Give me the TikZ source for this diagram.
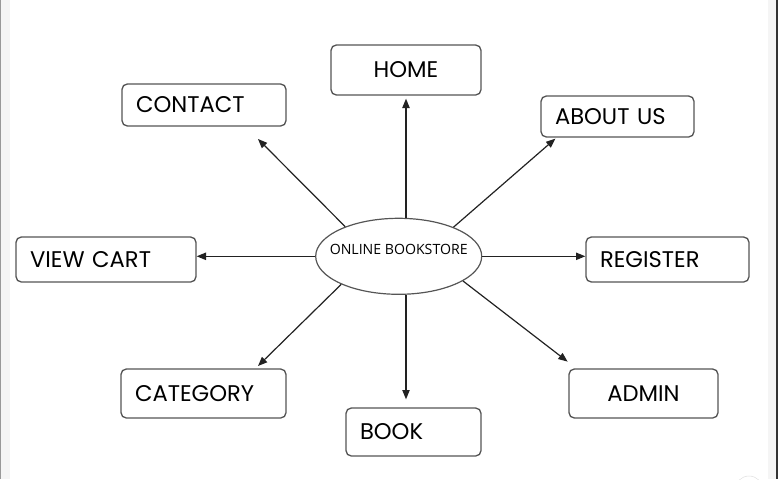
\documentclass[tikz,border=0pt]{standalone}
\usepackage{fontspec}
\usetikzlibrary{arrows.meta}
\usetikzlibrary{calc}
\usetikzlibrary{shapes.geometric}
\newfontfamily\pagefont{Poppins}
\newfontfamily\hubfont{Open Sans}
\definecolor{boxline}{HTML}{555555}
\definecolor{arrowline}{HTML}{222222}
\definecolor{strip}{HTML}{F5F5F5}
\tikzset{
  every picture/.style={font={\pagefont\fontsize{17}{20}\selectfont}, >={Triangle[length=7pt, width=5.5pt]}}}

\begin{document}
\begin{tikzpicture}[x=0.75pt, y=-0.75pt,
    hub/.style={draw=boxline, ellipse, line width=0.9pt, minimum width=124.5pt, minimum height=57pt,
      inner sep=0pt, text depth=10.5pt, font={\hubfont\fontsize{10.6}{12}\selectfont}},
    page/.style={draw=boxline, line width=1pt, rounded corners=4pt, inner xsep=10.5pt, inner ysep=0pt, align=left},
    link/.style={color=arrowline, line width=0.9pt}]

    \useasboundingbox (0,0) rectangle (778,479);

    % window edges of the screenshot
    \fill[strip] (0,0) rectangle (10,479);
    \draw[black!40, line width=0.75pt] (0.5,0) -- (0.5,479);
    \fill[strip] (768,0) rectangle (776,479);
    \draw[black!80, line width=1.5pt] (777,0) -- (777,479);
    \draw[black!12] (749,490) circle[radius=14];

    \node[hub] (BS) at (398.7,256.3) {\makebox[0pt]{ONLINE BOOKSTORE}};

    \node[page, align=center, text width=91.5pt, minimum height=37.5pt] (HM) at (406,70) {HOME};
    \node[page, text width=102pt, minimum height=31.5pt] (CT) at (204,105) {CONTACT};
    \node[page, text width=93.75pt, minimum height=30.75pt] (AU) at (617.5,116.5) {ABOUT US};
    \node[page, text width=114pt, minimum height=33.75pt] (VC) at (106,259.5) {VIEW CART};
    \node[page, text width=101.25pt, minimum height=33.75pt] (RG) at (667.5,259.5) {REGISTER};
    \node[page, text width=102.75pt, minimum height=36.75pt] (CG) at (203.5,393.5) {CATEGORY};
    \node[page, text width=80.25pt, minimum height=36pt] (BK) at (413.5,432) {BOOK};
    \node[page, align=center, text width=90.75pt, minimum height=36.75pt] (AD) at (643.5,393.5) {ADMIN};

    \path[->, link] (BS.north -| HM.south) edge[shorten >=2.25pt] (HM.south);
    \path[->, link] (BS.south -| HM.south) edge[shorten >=6pt] (BK.north -| HM.south);
    \path[->, link] (BS.west) edge (BS.west -| VC.east);
    \path[->, link] (BS.east) edge (BS.east -| RG.west);

    \path[->, link] (BS.151) edge ($(CT.south east)+(-28.7,12.3)$);
    \path[->, link] (BS.28.5) edge ($(AU.south west)+(15,1)$);
    \path[->, link] (BS.206.4) edge ($(CG.north east)+(-28.7,-2.3)$);
    \path[->, link] (BS.339.5) edge ($(AD.north west)+(-0.7,-6.7)$);
  \end{tikzpicture}
\end{document}
